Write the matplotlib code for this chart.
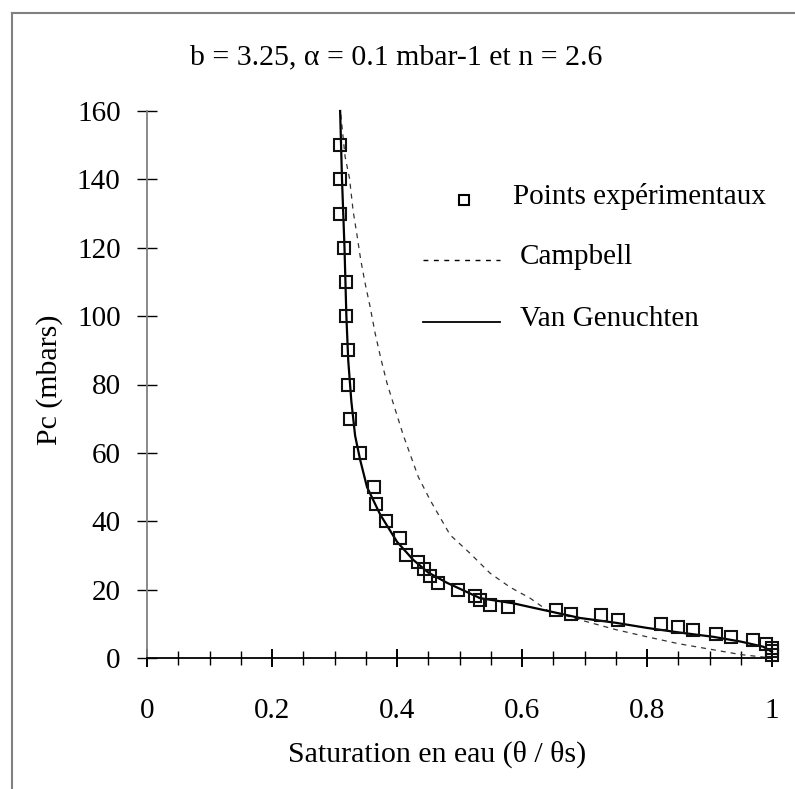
import matplotlib
matplotlib.use("Agg")
import matplotlib.pyplot as plt
from matplotlib.lines import Line2D
from matplotlib.ticker import MultipleLocator

plt.rcParams['font.family'] = ['Liberation Serif', 'DejaVu Serif']

# experimental points (saturation, Pc in mbar)
exp_sat = [0.309, 0.309, 0.309, 0.315, 0.318, 0.318, 0.321, 0.322, 0.324, 0.341,
           0.363, 0.366, 0.382, 0.404, 0.414, 0.433, 0.443, 0.452, 0.465, 0.498,
           0.524, 0.533, 0.548, 0.578, 0.654, 0.679, 0.727, 0.753, 0.823, 0.849,
           0.874, 0.910, 0.935, 0.970, 0.991, 1.0, 1.0, 1.0]
exp_pc = [150, 140, 130, 120, 110, 100, 90, 80, 70, 60,
          50, 45, 40, 35, 30, 28, 26, 24, 22, 20,
          18, 17, 15.5, 15, 14, 13, 12.5, 11.2, 10, 9,
          8.3, 7, 6, 5.2, 4, 3, 2, 1]

# Campbell curve
camp_sat = [0.310, 0.317, 0.324, 0.330, 0.336, 0.342, 0.349, 0.357, 0.365, 0.374,
            0.384, 0.394, 0.410, 0.434, 0.453, 0.485, 0.517, 0.549, 0.581, 0.613,
            0.640, 0.700, 0.750, 0.800, 0.850, 0.900, 0.950, 1.0]
camp_pc = [159, 146.6, 140.3, 130.5, 123.7, 116.4, 109.6, 102.7, 95, 87.7,
           80.4, 74.5, 65.2, 53, 46.2, 36, 30.6, 24.8, 20.7, 17.5,
           14, 10.8, 8.3, 6.2, 4.2, 2.6, 1.0, 0.0]

# Van Genuchten curve
vg_sat = [0.309, 0.312, 0.316, 0.319, 0.322, 0.327, 0.333, 0.341, 0.352, 0.373,
          0.400, 0.426, 0.450, 0.480, 0.533, 0.586, 0.613, 0.693, 0.750, 0.800,
          0.850, 0.906, 0.950, 0.986, 1.0]
vg_pc = [160, 140, 120, 100, 87, 75, 65, 58, 50, 42,
         34, 28.7, 25, 22, 17.5, 16, 14.9, 11.7, 10.3, 8.8,
         7.5, 6.2, 4.8, 3.3, 1.8]

x_ticks = [0, 0.2, 0.4, 0.6, 0.8, 1.0]
x_labels = ['0', '0.2', '0.4', '0.6', '0.8', '1']
y_ticks = [0, 20, 40, 60, 80, 100, 120, 140, 160]

W, H = 795, 789
fig = plt.figure(figsize=(W / 100, H / 100), dpi=100)
ax = fig.add_axes([147 / W, 1 - 658 / H, (772 - 147) / W, (658 - 111) / H])

ax.plot(camp_sat, camp_pc, color='#333333', lw=0.9, dashes=(4, 4), clip_on=False)
ax.plot(vg_sat, vg_pc, color='black', lw=1.6, clip_on=False)
ax.plot(exp_sat, exp_pc, 's', ms=8.5, mfc='none', mec='#111111', mew=1.5,
        clip_on=False, zorder=5)

ax.set_xlim(0, 1)
ax.set_ylim(0, 160)
ax.set_xticks(x_ticks)
ax.set_xticklabels(x_labels)
ax.xaxis.set_minor_locator(MultipleLocator(0.05))
ax.set_yticks(y_ticks)

for s in ['top', 'right']:
    ax.spines[s].set_visible(False)
ax.spines['left'].set_color('#808080')
ax.spines['left'].set_linewidth(1.3)
ax.spines['bottom'].set_color('black')
ax.spines['bottom'].set_linewidth(1.3)

ax.tick_params(axis='x', which='major', direction='inout', length=13, width=1.4,
               labelsize=21, pad=22)
ax.tick_params(axis='x', which='minor', direction='inout', length=10, width=1.0)
ax.tick_params(axis='y', which='major', direction='inout', length=14, width=1.0,
               labelsize=21, pad=12)

ax.set_xlabel('Saturation en eau (\u03b8 / \u03b8s)', fontsize=21.5)
ax.xaxis.set_label_coords((437 - 147) / (772 - 147), -(741 - 658) / (658 - 111))
ax.set_ylabel('Pc (mbars)', fontsize=21.5)
ax.yaxis.set_label_coords((63 - 147) / (772 - 147), (658 - 380) / (658 - 111))

fig.text(396 / W, 1 - 57 / H, 'b = 3.25, \u03b1 = 0.1 mbar-1 et n = 2.6',
         fontsize=21.5, ha='center', va='center')

# legend drawn by hand, like the original layout
fig.add_artist(Line2D([464 / W], [1 - 200 / H], marker='s', ms=7, mfc='none',
                      mec='black', mew=1.5, ls='none'))
fig.text(513 / W, 1 - 197 / H, 'Points exp\u00e9rimentaux', fontsize=21, va='center')
fig.add_artist(Line2D([423 / W, 500 / W], [1 - 260 / H, 1 - 260 / H],
                      color='black', lw=1.0, dashes=(3.5, 4)))
fig.text(520 / W, 1 - 257 / H, 'Campbell', fontsize=21, va='center')
fig.add_artist(Line2D([423 / W, 500 / W], [1 - 322 / H, 1 - 322 / H],
                      color='black', lw=1.3))
fig.text(520 / W, 1 - 319 / H, 'Van Genuchten', fontsize=21, va='center')

# outer chart frame (cropped)
fig.add_artist(Line2D([12 / W, 12 / W], [0, 1 - 13 / H], color='#808080', lw=1.5))
fig.add_artist(Line2D([12 / W, 1], [1 - 13 / H, 1 - 13 / H], color='#808080', lw=1.5))

fig.savefig('out.png', dpi=100)
